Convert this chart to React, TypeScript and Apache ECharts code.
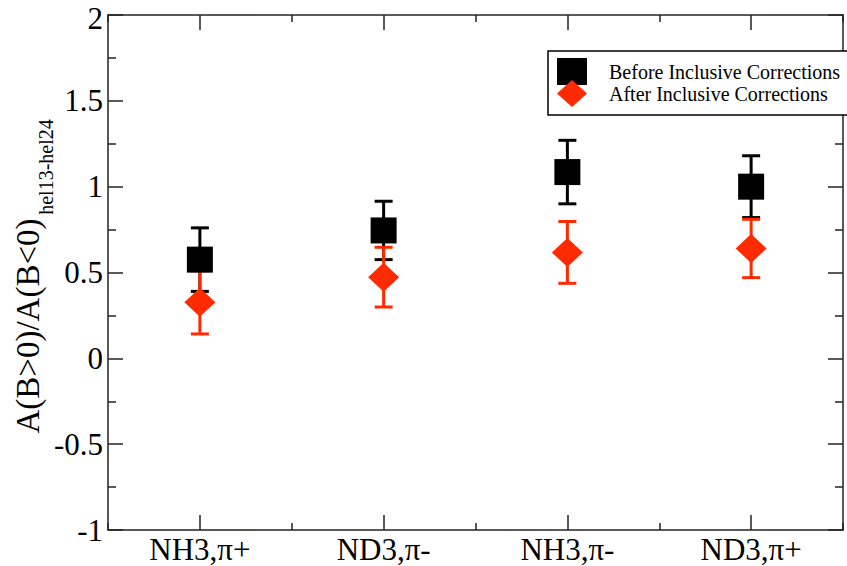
import React, { useEffect, useRef } from "react";
import * as echarts from "echarts";

const categories = ["NH3,π+", "ND3,π-", "NH3,π-", "ND3,π+"];
const beforeValues = [0.575, 0.745, 1.085, 1.0];
const beforeErrors = [0.185, 0.17, 0.185, 0.18];
const afterValues = [0.326, 0.473, 0.617, 0.64];
const afterErrors = [0.184, 0.174, 0.18, 0.17];
const yTicks = { min: -1, max: 2, interval: 0.5 };

const SERIF = "Liberation Serif, DejaVu Serif, serif";
const RED = "#ff2a00";
const AXIS = "#222";

function errorBarSeries(name: string, values: number[], errors: number[], color: string) {
  return {
    type: "custom",
    name,
    xAxisIndex: 0,
    yAxisIndex: 0,
    data: values.map((v, i) => [i, v, errors[i]]),
    encode: { x: 0, y: 1 },
    renderItem: (_params: any, api: any) => {
      const x = api.value(0);
      const y = api.value(1);
      const e = api.value(2);
      const top = api.coord([x, y + e]);
      const bot = api.coord([x, y - e]);
      const hw = 9;
      const st = { stroke: color, lineWidth: 3 };
      return {
        type: "group",
        children: [
          { type: "line", shape: { x1: top[0], y1: top[1], x2: bot[0], y2: bot[1] }, style: st },
          { type: "line", shape: { x1: top[0] - hw, y1: top[1], x2: top[0] + hw, y2: top[1] }, style: st },
          { type: "line", shape: { x1: bot[0] - hw, y1: bot[1], x2: bot[0] + hw, y2: bot[1] }, style: st },
        ],
      };
    },
  };
}

function xAxisDef(position: "bottom" | "top", major: boolean, labels: boolean) {
  return {
    type: "category",
    position,
    data: categories,
    boundaryGap: true,
    axisLine: { show: major, onZero: false, lineStyle: { color: AXIS, width: 1.5 } },
    axisTick: {
      show: true,
      inside: true,
      alignWithLabel: major,
      length: major ? 15 : 7,
      lineStyle: { color: AXIS, width: 1.5 },
    },
    axisLabel: {
      show: labels,
      color: "#000",
      fontFamily: SERIF,
      fontSize: 31,
      lineHeight: 28,
      margin: 5,
    },
    splitLine: { show: false },
  };
}

function yAxisDef(position: "left" | "right", labels: boolean) {
  return {
    type: "value",
    position,
    min: yTicks.min,
    max: yTicks.max,
    interval: yTicks.interval,
    axisLine: { show: true, onZero: false, lineStyle: { color: AXIS, width: 1.5 } },
    axisTick: { show: true, inside: true, length: 15, lineStyle: { color: AXIS, width: 1.5 } },
    minorTick: { show: true, splitNumber: 2, length: 8, lineStyle: { color: AXIS, width: 1.5 } },
    axisLabel: {
      show: labels,
      color: "#000",
      fontFamily: SERIF,
      fontSize: 31,
      lineHeight: 34,
      margin: 5,
      formatter: (v: number) => (v === yTicks.max ? "{top|" + v + "}" : String(v)),
      rich: {
        top: {
          fontFamily: SERIF,
          fontSize: 31,
          lineHeight: 34,
          color: "#000",
          padding: [6, 0, 0, 0],
        },
      },
    },
    splitLine: { show: false },
  };
}

export default function App() {
  const ref = useRef<HTMLDivElement>(null);
  useEffect(() => {
    if (!ref.current) return;
    const chart = echarts.init(ref.current, undefined, { renderer: "svg" });
    chart.setOption({
      animation: false,
      backgroundColor: "#fff",
      textStyle: { fontFamily: SERIF },
      grid: {
        left: 108,
        top: 15,
        right: 4,
        bottom: 36,
        containLabel: false,
        outerBoundsMode: "none",
      },
      xAxis: [
        xAxisDef("bottom", true, true),
        xAxisDef("bottom", false, false),
        xAxisDef("top", true, false),
        xAxisDef("top", false, false),
      ],
      yAxis: [yAxisDef("left", true), yAxisDef("right", false)],
      legend: {
        data: ["Before Inclusive Corrections", "After Inclusive Corrections"],
        orient: "vertical",
        left: 548,
        top: 51,
        padding: [7, 12, 8, 9],
        itemGap: -5,
        itemWidth: 30,
        itemHeight: 27,
        borderColor: "#000",
        borderWidth: 1.5,
        borderRadius: 0,
        backgroundColor: "#fff",
        textStyle: { fontFamily: SERIF, fontSize: 20, color: "#000", padding: [0, 0, 0, 17] },
      },
      graphic: [
        {
          type: "text",
          x: 28,
          y: 326,
          rotation: Math.PI / 2,
          style: {
            text: "A(B>0)/A(B<0)",
            fontFamily: SERIF,
            fontSize: 33,
            fill: "#000",
            align: "center",
            verticalAlign: "middle",
          },
        },
        {
          type: "text",
          x: 46,
          y: 167,
          rotation: Math.PI / 2,
          style: {
            text: "hel13-hel24",
            fontFamily: SERIF,
            fontSize: 20,
            fill: "#000",
            align: "center",
            verticalAlign: "middle",
          },
        },
      ],
      series: [
        errorBarSeries("beforeErr", beforeValues, beforeErrors, "#000"),
        {
          type: "scatter",
          name: "Before Inclusive Corrections",
          xAxisIndex: 0,
          yAxisIndex: 0,
          symbol: "rect",
          symbolSize: 26,
          itemStyle: { color: "#000", opacity: 1 },
          data: beforeValues.map((v, i) => [i, v]),
        },
        errorBarSeries("afterErr", afterValues, afterErrors, RED),
        {
          type: "scatter",
          name: "After Inclusive Corrections",
          xAxisIndex: 0,
          yAxisIndex: 0,
          symbol: "diamond",
          symbolSize: [31, 29],
          itemStyle: { color: RED, opacity: 1 },
          data: afterValues.map((v, i) => [i, v]),
        },
      ],
    });
    return () => chart.dispose();
  }, []);
  return (
    <div
      ref={ref}
      style={{ position: "absolute", left: 0, top: 0, width: 847, height: 566 }}
    />
  );
}
